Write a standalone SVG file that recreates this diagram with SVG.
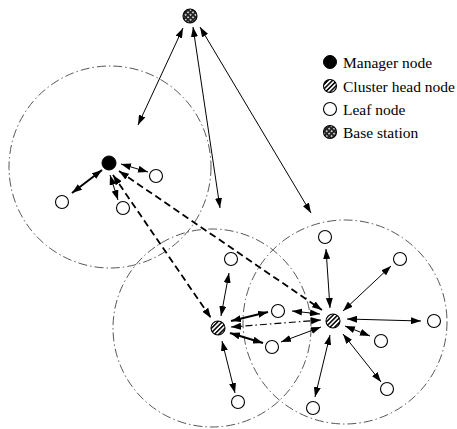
<svg xmlns="http://www.w3.org/2000/svg" width="457" height="429" viewBox="0 0 457 429">
<style>
.range{fill:none;stroke:#444;stroke-width:0.9;stroke-dasharray:9,3,1.5,3}
.leaf{fill:#fff;stroke:#000;stroke-width:1.1}
.mgr{fill:#000;stroke:#000;stroke-width:1}
.ch{fill:url(#hatch);stroke:#000;stroke-width:1.1}
.bs{fill:url(#dots);stroke:#000;stroke-width:1.1}
.a{stroke:#000;stroke-width:1;fill:none;marker-start:url(#ah);marker-end:url(#ah)}
.b{stroke:#000;stroke-width:2;fill:none;marker-start:url(#ah);marker-end:url(#ah)}
.d{stroke:#000;stroke-width:1.8;stroke-dasharray:7,4;fill:none;marker-start:url(#ah);marker-end:url(#ah)}
.dd{stroke:#000;stroke-width:1.1;stroke-dasharray:7,3,1.5,3;fill:none;marker-start:url(#ah);marker-end:url(#ah)}
.lbl{font-family:'Liberation Serif','Times New Roman','DejaVu Serif',serif;font-size:15.5px;fill:#000}
</style>
<defs>
<marker id="ah" viewBox="0 0 10 10" refX="10" refY="5" markerWidth="10" markerHeight="7" markerUnits="userSpaceOnUse" orient="auto-start-reverse" preserveAspectRatio="none">
<path d="M0,0 L10,5 L0,10 z" fill="#000"/>
</marker>
<pattern id="hatch" width="3.2" height="3.2" patternUnits="userSpaceOnUse" patternTransform="rotate(45)">
<rect width="3.2" height="3.2" fill="#fff"/>
<rect width="1.5" height="3.2" fill="#000"/>
</pattern>
<pattern id="dots" width="3.5" height="3.5" patternUnits="userSpaceOnUse" patternTransform="rotate(45)">
<rect width="3.5" height="3.5" fill="#222"/>
<circle cx="1.75" cy="1.75" r="0.9" fill="#fff"/>
</pattern>
</defs>

<g id="ranges">
<circle class="range" cx="110" cy="167" r="101"/>
<circle class="range" cx="212" cy="328" r="99"/>
<circle class="range" cx="345" cy="322" r="102"/>
</g>

<g id="connectors">
<line class="a" x1="183" y1="28" x2="138" y2="125"/>
<line class="a" x1="193" y1="27" x2="220" y2="208"/>
<line class="a" x1="200" y1="27" x2="311" y2="213"/>
<line class="a" x1="121" y1="164" x2="148" y2="172"/>
<line class="b" x1="102" y1="170" x2="72" y2="193"/>
<line class="a" x1="110" y1="175" x2="118" y2="200"/>
<line class="d" x1="113" y1="175" x2="211" y2="318"/>
<line class="d" x1="119" y1="171" x2="322" y2="310"/>
<line class="a" x1="229" y1="273" x2="221" y2="316"/>
<line class="b" x1="231" y1="321" x2="268" y2="312"/>
<line class="dd" x1="231" y1="327" x2="321" y2="320"/>
<line class="b" x1="230" y1="333" x2="263" y2="343"/>
<line class="a" x1="222" y1="341" x2="235" y2="393"/>
<line class="a" x1="292" y1="311" x2="320" y2="314"/>
<line class="a" x1="281" y1="342" x2="321" y2="327"/>
<line class="a" x1="326" y1="249" x2="330" y2="308"/>
<line class="a" x1="391" y1="266" x2="343" y2="311"/>
<line class="a" x1="347" y1="319" x2="421" y2="321"/>
<line class="a" x1="345" y1="326" x2="370" y2="336"/>
<line class="a" x1="343" y1="334" x2="381" y2="382"/>
<line class="a" x1="330" y1="335" x2="315" y2="397"/>
</g>

<g id="base-station"><circle class="bs" cx="190" cy="16" r="7"/></g>
<g id="manager"><circle class="mgr" cx="109" cy="163" r="7"/></g>
<g id="ch1"><circle class="ch" cx="218" cy="328" r="7"/></g>
<g id="ch2"><circle class="ch" cx="333" cy="321" r="7"/></g>
<g id="leaf1"><circle class="leaf" cx="156" cy="176" r="6.5"/></g>
<g id="leaf2"><circle class="leaf" cx="62" cy="202" r="6.5"/></g>
<g id="leaf3"><circle class="leaf" cx="123" cy="208" r="6.5"/></g>
<g id="leaf4"><circle class="leaf" cx="231" cy="259" r="6.5"/></g>
<g id="leaf5"><circle class="leaf" cx="238" cy="402" r="6.5"/></g>
<g id="leaf6"><circle class="leaf" cx="278" cy="311" r="6.5"/></g>
<g id="leaf7"><circle class="leaf" cx="272" cy="347" r="6.5"/></g>
<g id="leaf8"><circle class="leaf" cx="325" cy="237" r="6.5"/></g>
<g id="leaf9"><circle class="leaf" cx="400" cy="259" r="6.5"/></g>
<g id="leaf10"><circle class="leaf" cx="434" cy="321" r="6.5"/></g>
<g id="leaf11"><circle class="leaf" cx="381" cy="341" r="6.5"/></g>
<g id="leaf12"><circle class="leaf" cx="387" cy="389" r="6.5"/></g>
<g id="leaf13"><circle class="leaf" cx="313" cy="408" r="6.5"/></g>

<g id="legend">
<circle class="mgr" cx="330" cy="62" r="6.5"/>
<text class="lbl" x="343" y="68" font-family="'Liberation Serif', serif">Manager node</text>
<circle class="ch" cx="330" cy="86" r="6.5"/>
<text class="lbl" x="343" y="92" font-family="'Liberation Serif', serif">Cluster head node</text>
<circle class="leaf" cx="330" cy="109" r="6.5"/>
<text class="lbl" x="343" y="115" font-family="'Liberation Serif', serif">Leaf node</text>
<circle class="bs" cx="330" cy="132" r="6.5"/>
<text class="lbl" x="343" y="138" font-family="'Liberation Serif', serif">Base station</text>
</g>
</svg>
